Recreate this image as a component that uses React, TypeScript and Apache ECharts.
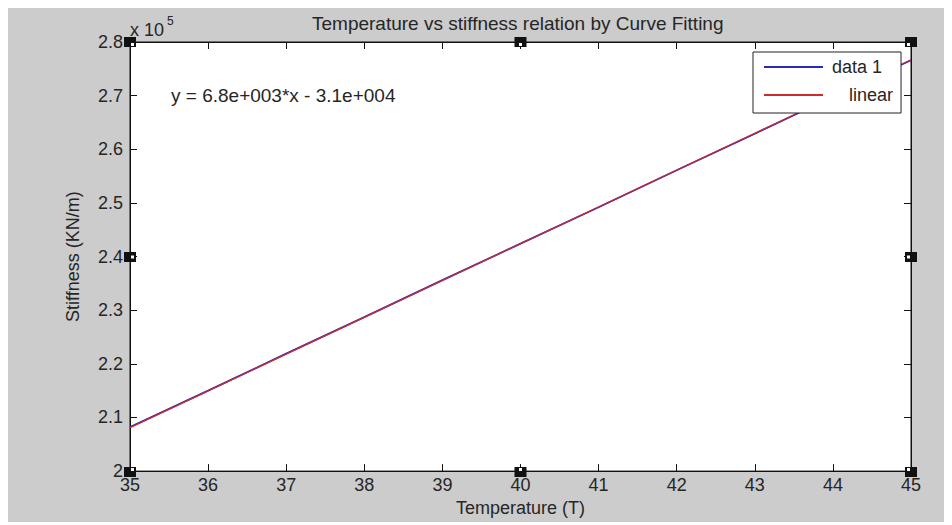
import React, { useEffect, useRef } from "react";
import * as echarts from "echarts";

const temperature = [35, 36, 37, 38, 39, 40, 41, 42, 43, 44, 45];
const stiffness = [208200, 215000, 221900, 228700, 235600, 242400, 249200, 256100, 262900, 269800, 276600];
const fitTemperature = [35, 45];
const fitStiffness = [208100, 276700];
const seriesNames = ["data 1", "linear"];
const titleText = "Temperature vs stiffness relation by Curve Fitting";
const equationText = "y = 6.8e+003*x - 3.1e+004";
const xName = "Temperature (T)";
const yName = "Stiffness (KN/m)";

const W = 944;
const H = 514;
const GL = 122;
const GT = 34;
const GR = 41;
const GB = 50;
const TXT = "#262626";

export default function App() {
  const ref = useRef<HTMLDivElement>(null);
  useEffect(() => {
    if (!ref.current) return;
    const chart = echarts.init(ref.current, null, { renderer: "svg" });
    const gw = W - GL - GR;
    const gh = H - GT - GB;
    const handlePts: [number, number, number, number][] = [
      [GL, GT, 1, 1],
      [GL + gw / 2, GT, 0, 1],
      [GL + gw, GT, -1, 1],
      [GL, GT + gh / 2, 1, 0],
      [GL + gw, GT + gh / 2, -1, 0],
      [GL, GT + gh, 1, -1],
      [GL + gw / 2, GT + gh, 0, -1],
      [GL + gw, GT + gh, -1, -1],
    ];
    const handles: any[] = [];
    handlePts.forEach(([x, y, dx, dy]) => {
      handles.push({
        type: "rect",
        shape: { x: x - 6, y: y - 5, width: 12, height: 10 },
        style: { fill: "#111" },
        z: 100,
      });
      handles.push({
        type: "rect",
        shape: { x: x - 1.5 + dx * 2.5, y: y - 1.5 + dy * 2.5, width: 3, height: 3 },
        style: { fill: "#fff" },
        z: 101,
      });
    });
    const xAxisBase = {
      type: "value",
      min: 35,
      max: 45,
      interval: 1,
      splitLine: { show: false },
      axisLine: { show: true, onZero: false, lineStyle: { color: "#111", width: 1 } },
      axisTick: { show: true, inside: true, length: 7, lineStyle: { color: "#111" } },
    };
    const yAxisBase = {
      type: "value",
      min: 200000,
      max: 280000,
      interval: 10000,
      splitLine: { show: false },
      axisLine: { show: true, onZero: false, lineStyle: { color: "#111", width: 1 } },
      axisTick: { show: true, inside: true, length: 7, lineStyle: { color: "#111" } },
    };
    chart.setOption({
      animation: false,
      backgroundColor: "#cccccc",
      textStyle: { fontFamily: "Liberation Sans, Arial, sans-serif" },
      title: {
        text: titleText,
        left: 304,
        top: 6,
        padding: 0,
        textStyle: { fontSize: 19, fontWeight: "normal", color: TXT },
      },
      grid: {
        left: GL,
        top: GT,
        right: GR,
        bottom: GB,
        show: true,
        backgroundColor: "#ffffff",
        borderColor: "#111",
        borderWidth: 1,
      },
      legend: {
        orient: "vertical",
        left: 745,
        top: 44,
        z: 10,
        data: seriesNames,
        backgroundColor: "#ffffff",
        borderColor: "#222",
        borderWidth: 1,
        borderRadius: 0,
        padding: [6, 8, 9, 10],
        itemWidth: 59,
        itemHeight: 14,
        itemGap: 10,
        itemStyle: { opacity: 0 },
        formatter: (name: string) => (name === "linear" ? `{l|${name}}` : `{d|${name}}`),
        textStyle: {
          fontSize: 18,
          color: TXT,
          rich: {
            d: { fontSize: 18, color: TXT, padding: [0, 0, 0, 4] },
            l: { fontSize: 18, color: TXT, padding: [0, 0, 0, 21] },
          },
        },
      },
      xAxis: [
        {
          ...xAxisBase,
          position: "bottom",
          name: xName,
          nameLocation: "middle",
          nameGap: 27,
          nameTextStyle: { fontSize: 18, color: TXT },
          axisLabel: { show: true, margin: 5, fontSize: 18, color: TXT },
        },
        {
          ...xAxisBase,
          position: "top",
          axisLabel: { show: false },
        },
      ],
      yAxis: [
        {
          ...yAxisBase,
          position: "left",
          name: yName,
          nameLocation: "middle",
          nameGap: 48,
          nameTextStyle: { fontSize: 18, color: TXT },
          axisLabel: {
            show: true,
            margin: 7,
            fontSize: 18,
            color: TXT,
            formatter: (v: number) => String(Number((v / 1e5).toFixed(1))),
          },
        },
        {
          ...yAxisBase,
          position: "right",
          axisLabel: { show: false },
        },
      ],
      graphic: [
        {
          type: "text",
          left: 163,
          top: 78,
          style: { text: equationText, fontSize: 19, fill: TXT, fontFamily: "Liberation Sans, Arial, sans-serif" },
          z: 50,
        },
        {
          type: "text",
          x: GL,
          y: 22,
          style: { text: "x 10", fontSize: 18, fill: TXT, verticalAlign: "middle", fontFamily: "Liberation Sans, Arial, sans-serif" },
          z: 50,
        },
        {
          type: "text",
          x: 159,
          y: 13,
          style: { text: "5", fontSize: 12, fill: TXT, verticalAlign: "middle", fontFamily: "Liberation Sans, Arial, sans-serif" },
          z: 50,
        },
        ...handles,
      ],
      series: [
        {
          name: seriesNames[0],
          type: "line",
          xAxisIndex: 0,
          yAxisIndex: 0,
          symbol: "none",
          data: temperature.map((t, i) => [t, stiffness[i]]),
          lineStyle: { color: "#2a2ab8", width: 1.8 },
          itemStyle: { color: "#2a2ab8" },
          z: 2,
        },
        {
          name: seriesNames[1],
          type: "line",
          xAxisIndex: 0,
          yAxisIndex: 0,
          symbol: "none",
          data: fitTemperature.map((t, i) => [t, fitStiffness[i]]),
          lineStyle: { color: "#d02a2a", width: 1.2 },
          itemStyle: { color: "#d02a2a" },
          z: 3,
        },
      ],
    });
    return () => chart.dispose();
  }, []);
  return <div ref={ref} style={{ width: W, height: H }} />;
}
